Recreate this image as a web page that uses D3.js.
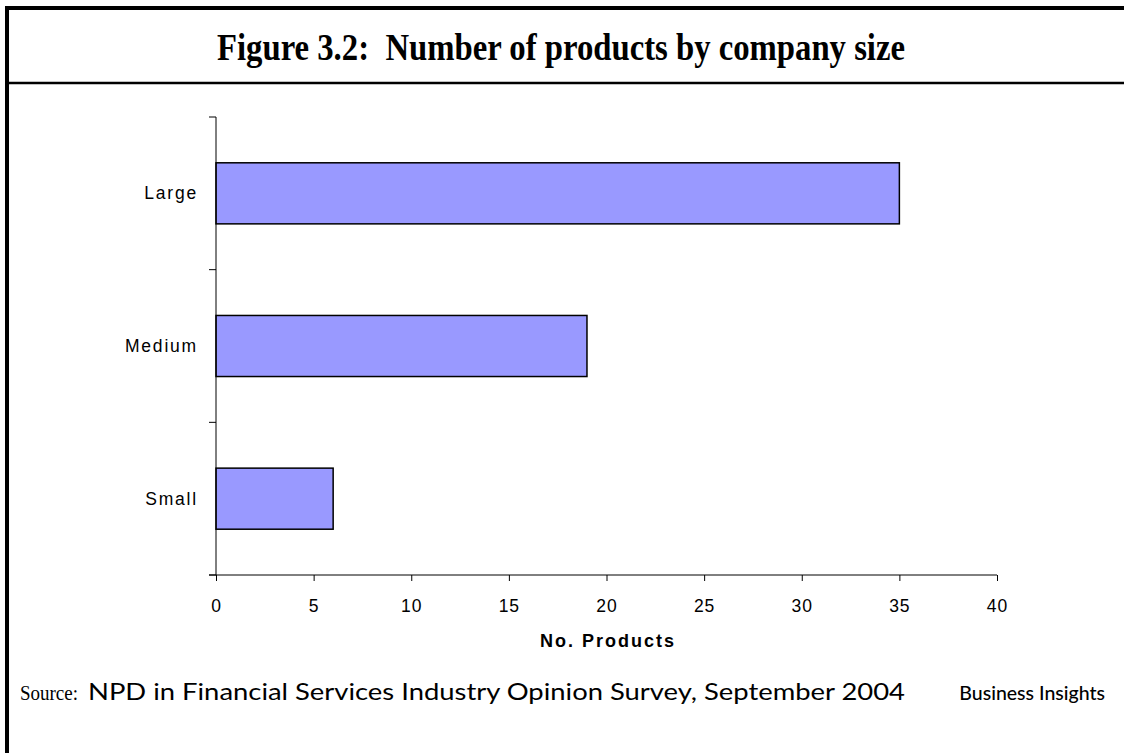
<!DOCTYPE html>
<html>
<head>
<meta charset="utf-8">
<script src="https://cdn.jsdelivr.net/npm/d3@7"></script>
<style>
  html, body { margin: 0; padding: 0; background: #fff; }
  svg { display: block; }
  text { white-space: pre; }
</style>
</head>
<body>
<svg id="chart" width="1124" height="753"></svg>
<script>
// Number of products by company size
const categories = ["Large", "Medium", "Small"];
const products = [35, 19, 6];
const xTicks = [0, 5, 10, 15, 20, 25, 30, 35, 40];

const titleText = "Figure 3.2:  Number of products by company size";
const xAxisTitle = "No. Products";
const sourceLead = "Source:";
const sourceText = "NPD in Financial Services Industry Opinion Survey, September 2004";
const publisher = "Business Insights";

const svg = d3.select("#chart");

// Frame: thick top and left rules, thinner rule under the title
svg.append("line").attr("x1", 5).attr("x2", 1124).attr("y1", 8).attr("y2", 8)
  .attr("stroke", "#000").attr("stroke-width", 4);
svg.append("line").attr("x1", 7).attr("x2", 7).attr("y1", 6).attr("y2", 753)
  .attr("stroke", "#000").attr("stroke-width", 4);
svg.append("line").attr("x1", 7).attr("x2", 1124).attr("y1", 83).attr("y2", 83)
  .attr("stroke", "#000").attr("stroke-width", 2.5);

svg.append("text")
  .attr("x", 217).attr("y", 60)
  .attr("font-family", "'Liberation Serif', 'Times New Roman', serif")
  .attr("font-weight", "bold")
  .attr("font-size", 37)
  .attr("textLength", 688)
  .attr("lengthAdjust", "spacingAndGlyphs")
  .attr("fill", "#000")
  .text(titleText);

// Plot area
const plot = { left: 216, right: 997, top: 117, bottom: 575 };

const x = d3.scaleLinear().domain([0, 40]).range([plot.left, plot.right]);
const y = d3.scaleBand().domain(categories).range([plot.top, plot.bottom])
  .paddingInner(0.6).paddingOuter(0.3);
const yEdges = d3.scalePoint().domain(d3.range(categories.length + 1))
  .range([plot.top, plot.bottom]);

// Bars
svg.append("g").selectAll("rect")
  .data(categories.map((c, i) => ({ c, v: products[i] })))
  .join("rect")
  .attr("x", x(0))
  .attr("y", d => y(d.c))
  .attr("width", d => x(d.v) - x(0))
  .attr("height", y.bandwidth())
  .attr("fill", "#9999ff")
  .attr("stroke", "#000")
  .attr("stroke-width", 1.5);

// Y axis: line with ticks at category boundaries
const yAxis = svg.append("g");
yAxis.append("line")
  .attr("x1", plot.left).attr("x2", plot.left)
  .attr("y1", plot.top).attr("y2", plot.bottom)
  .attr("stroke", "#000").attr("stroke-width", 1);
yAxis.selectAll("line.tick")
  .data(yEdges.domain())
  .join("line")
  .attr("class", "tick")
  .attr("x1", plot.left - 7).attr("x2", plot.left)
  .attr("y1", d => yEdges(d)).attr("y2", d => yEdges(d))
  .attr("stroke", "#000").attr("stroke-width", 1);
yAxis.selectAll("text")
  .data(categories)
  .join("text")
  .attr("x", 198)
  .attr("y", d => y(d) + y.bandwidth() / 2)
  .attr("dy", "0.35em")
  .attr("text-anchor", "end")
  .attr("font-family", "'Liberation Sans', Arial, sans-serif")
  .attr("font-size", 17.5)
  .attr("letter-spacing", 1.8)
  .attr("fill", "#000")
  .text(d => d);

// X axis
const xAxis = svg.append("g").attr("transform", `translate(0,${plot.bottom})`)
  .call(d3.axisBottom(x).tickValues(xTicks).tickSize(6).tickPadding(19).tickSizeOuter(0));
xAxis.select(".domain").attr("stroke", "#000").attr("d", `M${plot.left - 7},0H${plot.right}`);
xAxis.selectAll(".tick line").attr("stroke", "#000");
xAxis.selectAll(".tick text")
  .attr("font-family", "'Liberation Sans', Arial, sans-serif")
  .attr("font-size", 17.5)
  .attr("letter-spacing", 1)
  .attr("fill", "#000");

svg.append("text")
  .attr("x", 608)
  .attr("y", 647)
  .attr("text-anchor", "middle")
  .attr("font-family", "'Liberation Sans', Arial, sans-serif")
  .attr("font-weight", "bold")
  .attr("font-size", 18)
  .attr("letter-spacing", 2)
  .attr("fill", "#000")
  .text(xAxisTitle);

// Source line
svg.append("text")
  .attr("x", 20).attr("y", 700)
  .attr("font-family", "'Liberation Serif', 'Times New Roman', serif")
  .attr("font-size", 20)
  .attr("textLength", 58)
  .attr("lengthAdjust", "spacingAndGlyphs")
  .attr("fill", "#000")
  .text(sourceLead);
svg.append("text")
  .attr("x", 88).attr("y", 700)
  .attr("font-family", "Lato, 'Open Sans', sans-serif")
  .attr("font-size", 24)
  .attr("textLength", 817)
  .attr("lengthAdjust", "spacingAndGlyphs")
  .attr("fill", "#000")
  .text(sourceText);
svg.append("text")
  .attr("x", 1105).attr("y", 700)
  .attr("text-anchor", "end")
  .attr("font-family", "Lato, 'Open Sans', sans-serif")
  .attr("font-size", 19.5)
  .attr("font-weight", 500)
  .attr("fill", "#000")
  .text(publisher);
</script>
</body>
</html>
